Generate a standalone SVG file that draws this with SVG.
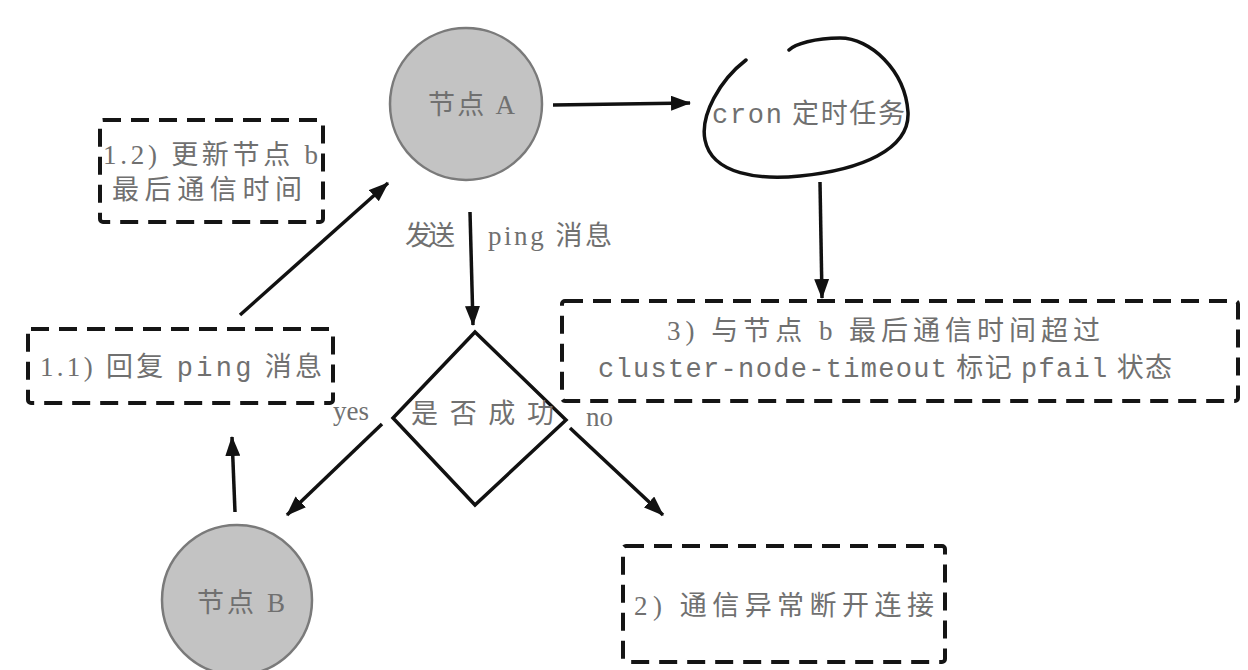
<svg xmlns="http://www.w3.org/2000/svg" width="1248" height="670" viewBox="0 0 1248 670">
<defs>
<style>
.node{fill:#c3c3c3;stroke:#7a7a7a;stroke-width:2.5}
.dash{fill:none;stroke:#151515;stroke-width:4;stroke-dasharray:18 10}
.edge{fill:none;stroke:#111;stroke-width:3.5}
.t{fill:#707070;font-family:"Liberation Serif","Noto Sans CJK SC",serif;font-size:27px}
.m{font-family:"Liberation Mono","Noto Sans CJK SC",monospace}
</style>
<marker id="ah" markerUnits="userSpaceOnUse" markerWidth="20" markerHeight="15" viewBox="0 0 20 15" refX="19" refY="7.5" orient="auto">
<path d="M0,0 L20,7.5 L0,15 z" fill="#111"/>
</marker>
</defs>
<rect width="1248" height="670" fill="#ffffff"/>

<g id="nodeA">
<circle class="node" cx="466" cy="104" r="76"/>
<text class="t" x="428" y="114" textLength="87" lengthAdjust="spacing">节点 A</text>
</g>

<g id="cron">
<path d="M746 60 C720 80 700 115 705 140 C712 175 760 180 800 176 C860 170 910 150 908 112 C905 70 870 38 840 38 C815 38 795 44 789 50" fill="none" stroke="#111" stroke-width="3.5" stroke-linecap="round"/>
<text class="t" x="712" y="123" textLength="193" lengthAdjust="spacing"><tspan class="m">cron</tspan> 定时任务</text>
</g>

<g id="box12">
<rect class="dash" x="100" y="120" width="223" height="102" rx="3"/>
<text class="t" x="103" y="164" textLength="215" lengthAdjust="spacing">1.2) 更新节点 b</text>
<text class="t" x="112" y="199" textLength="190" lengthAdjust="spacing">最后通信时间</text>
</g>

<g id="box11">
<rect class="dash" x="28" y="329" width="305" height="74" rx="3"/>
<text class="t" x="40" y="376" textLength="282" lengthAdjust="spacing">1.1) 回复 <tspan class="m">ping</tspan> 消息</text>
</g>

<g id="box3">
<rect class="dash" x="562" y="301" width="676" height="100" rx="3"/>
<text class="t" x="667" y="340" textLength="433" lengthAdjust="spacing">3) 与节点 b 最后通信时间超过</text>
<text class="t" x="598" y="377" textLength="574" lengthAdjust="spacing"><tspan class="m">cluster-node-timeout</tspan> 标记 <tspan class="m">pfail</tspan> 状态</text>
</g>

<g id="decision">
<polygon points="475,332 566,420 475,505 393,418" fill="#fff" stroke="#111" stroke-width="3.5" stroke-linejoin="miter"/>
<text class="t" x="411" y="423" textLength="143" lengthAdjust="spacing">是否成功</text>
</g>

<g id="nodeB">
<circle class="node" cx="237" cy="600" r="75"/>
<text class="t" x="197" y="612" textLength="88" lengthAdjust="spacing">节点 B</text>
</g>

<g id="box2">
<rect class="dash" x="623" y="546" width="322" height="116" rx="3"/>
<text class="t" x="634" y="615" textLength="300" lengthAdjust="spacing">2) 通信异常断开连接</text>
</g>

<g id="connectors">
<path class="edge" d="M553 105 L690 103" marker-end="url(#ah)"/>
<path class="edge" d="M470 212 L473 325" marker-end="url(#ah)"/>
<path class="edge" d="M820 182 L822 298" marker-end="url(#ah)"/>
<path class="edge" d="M382 424 L287 515" marker-end="url(#ah)"/>
<path class="edge" d="M570 428 L663 515" marker-end="url(#ah)"/>
<path class="edge" d="M235 512 L232 437" marker-end="url(#ah)"/>
<path class="edge" d="M240 315 L388 183" marker-end="url(#ah)"/>
<text class="t" x="405" y="245" font-size="25" textLength="50" lengthAdjust="spacing">发送</text>
<text class="t" x="488" y="245" textLength="124" lengthAdjust="spacing">ping 消息</text>
<text class="t" x="333" y="420" font-size="22">yes</text>
<text class="t" x="586" y="426" font-size="22">no</text>
</g>
</svg>
